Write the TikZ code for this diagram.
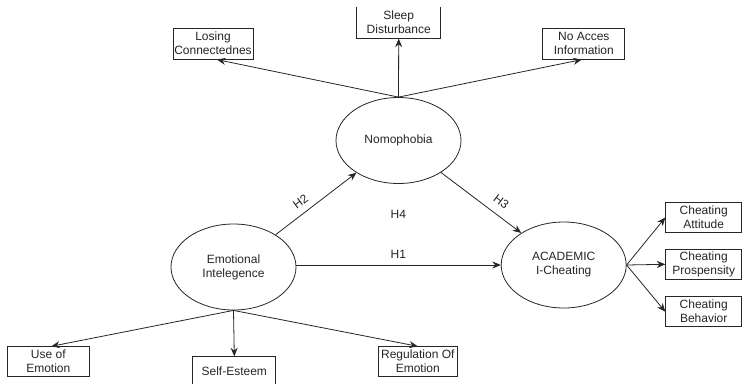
\documentclass[tikz,border=0pt]{standalone}
\usepackage{fontspec}
\setmainfont{Liberation Sans}
\usetikzlibrary{shapes.geometric,arrows.meta}
\begin{document}
\begin{tikzpicture}[x=1pt,y=-1pt,
  every node/.style={font=\fontsize{12}{14}\selectfont, text=black!85, align=center},
  latent/.style={ellipse, draw=black!85, line width=0.8pt, minimum width=125pt, minimum height=86pt, inner sep=0pt},
  ind/.style={rectangle, draw=black!85, line width=0.8pt, minimum width=80pt, minimum height=30pt, inner sep=0pt},
  arr/.style={draw=black!85, line width=0.8pt, -{Stealth[length=8.5pt,width=7pt]}},
  lbl/.style={inner sep=0pt}
]
\useasboundingbox (0,0) rectangle (743,383);
\clip (0,0) rectangle (743,383);
\fill[white] (0,0) rectangle (743,383);

% latent variables
\node[latent] (nomo) at (398.5,140.5) {Nomophobia};
\node[latent] (ei) at (233.5,267) {Emotional\\Intelegence};
\node[latent] (ac) at (563.7,265) {ACADEMIC\\I-Cheating};

% indicator boxes
\node[ind, minimum width=80pt, minimum height=31pt] (losing) at (213,43.7) {Losing\\Connectednes};
\node[ind, draw=none, minimum width=83pt, minimum height=31pt] (sleep) at (398.7,22.7) {Sleep\\Disturbance};
\draw[black!85, line width=0.8pt] (sleep.north west) -- (sleep.south west) -- (sleep.south east) -- (sleep.north east);
\node[ind, minimum width=82pt, minimum height=31pt] (noacc) at (583.8,43.7) {No Acces\\Information};

\node[ind, minimum width=76pt] (catt) at (703.7,217.5) {Cheating\\Attitude};
\node[ind, minimum width=76pt] (cpro) at (703.7,264.3) {Cheating\\Prospensity};
\node[ind, minimum width=76pt] (cbeh) at (703.7,311.7) {Cheating\\Behavior};

\node[ind, minimum width=82pt] (use) at (48.3,361.7) {Use of\\Emotion};
\node[ind, minimum width=83pt] (self) at (234.3,371.7) {Self-Esteem};
\node[ind, minimum width=79pt] (reg) at (417.8,361.7) {Regulation Of\\Emotion};

% indicator arrows
\draw[arr] (nomo.north) -- ([xshift=4pt]losing.south);
\draw[arr] (nomo.north) -- (sleep.south);
\draw[arr] (nomo.north) -- ([xshift=-2pt]noacc.south);

\draw[arr] (ac.east) -- (catt.west);
\draw[arr] (ac.east) -- (cpro.west);
\draw[arr] (ac.east) -- (cbeh.west);

\draw[arr] (ei.south) -- ([xshift=3pt]use.north);
\draw[arr] (ei.south) -- (self.north);
\draw[arr] (ei.south) -- (reg.north);

% structural paths
\draw[arr] (ei) -- (nomo);
\draw[arr] (nomo) -- (ac);
\draw[arr] (ei.east |- ac.west) -- (ac.west);

% hypothesis labels
\node[lbl, rotate=37] (h2) at (300.5,201.8) {H2};
\node[lbl, rotate=-37] (h3) at (501.2,201.8) {H3};
\node[lbl] (h4) at (398.3,214) {H4};
\node[lbl] (h1) at (398.3,254.3) {H1};
\end{tikzpicture}
\end{document}
